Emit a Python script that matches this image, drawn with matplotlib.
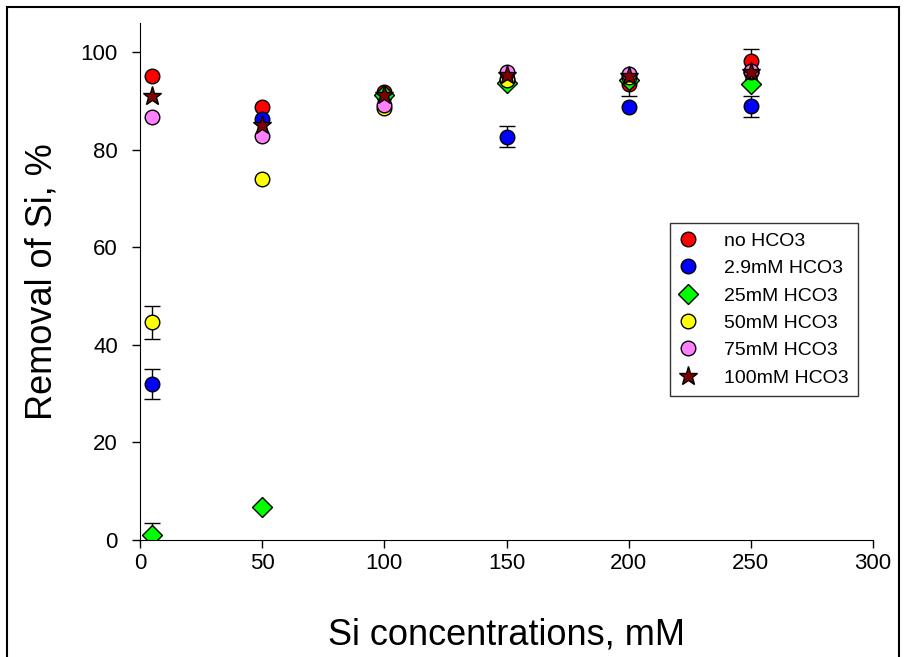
import numpy as np
import matplotlib
matplotlib.use("Agg")
import matplotlib.pyplot as plt
from matplotlib.patches import Rectangle

plt.rcParams['font.family'] = ['Liberation Sans', 'DejaVu Sans']

si_conc = [5, 50, 100, 150, 200, 250]

no_hco3 = [95.2, 88.8, 91.8, 94.5, 93.4, 98.2]
no_hco3_err = [0, 0, 0, 0, 2.4, 2.4]

hco3_2_9 = [32.0, 86.3, 91.0, 82.7, 88.8, 88.9]
hco3_2_9_err = [3.1, 0, 0, 2.1, 0, 2.2]

hco3_25 = [1.0, 6.8, 91.2, 93.6, 94.3, 93.4]
hco3_25_err = [2.5, 0, 0, 0, 0, 0]

hco3_50 = [44.6, 74.0, 88.5, 94.4, 95.0, 96.0]
hco3_50_err = [3.3, 0, 0, 0, 0, 0]

hco3_75 = [86.8, 82.8, 89.2, 96.0, 95.6, 96.1]
hco3_75_err = [0, 0, 0, 0, 0, 0]

hco3_100 = [91.1, 85.1, 91.2, 95.3, 95.2, 96.0]
hco3_100_err = [0, 0, 0, 0, 0, 0]

series = [
    ("no HCO3", no_hco3, no_hco3_err, "o", "#FF0000"),
    ("2.9mM HCO3", hco3_2_9, hco3_2_9_err, "o", "#0000FF"),
    ("25mM HCO3", hco3_25, hco3_25_err, "D", "#00FF00"),
    ("50mM HCO3", hco3_50, hco3_50_err, "o", "#FFFF00"),
    ("75mM HCO3", hco3_75, hco3_75_err, "o", "#FF80FF"),
    ("100mM HCO3", hco3_100, hco3_100_err, "*", "#800000"),
]

fig = plt.figure(figsize=(9.07, 6.57), dpi=100)
ax = fig.add_axes([140/907, 117/657, 733/907, 517/657])

for label, vals, err, mk, col in series:
    ms = 10.5
    if mk == "D":
        ms = 10
    if mk == "*":
        ms = 14
    yerr = np.array(err, dtype=float)
    yerr[yerr == 0] = np.nan
    ax.errorbar(si_conc, vals, yerr=yerr, fmt=mk, color=col, mec='black', mew=1,
                ms=ms, ecolor='black', elinewidth=1, capsize=5.5, capthick=1,
                label=label)

ax.set_xlim(0, 300)
ax.set_ylim(0, 106)
ax.set_xticks(np.arange(0, 301, 50))
ax.set_yticks(np.arange(0, 101, 20))
ax.spines['top'].set_visible(False)
ax.spines['right'].set_visible(False)
ax.tick_params(direction='out', length=6, width=1, labelsize=16)
ax.tick_params(axis='y', pad=10)
ax.set_xlabel("Si concentrations, mM", fontsize=26)
ax.set_ylabel("Removal of Si, %", fontsize=26)
ax.yaxis.set_label_coords(-0.134, 0.5)
ax.xaxis.set_label_coords(0.5, -0.184)
ax.xaxis.label.set_va('center')
ax.yaxis.label.set_va('center')

handles, labels = ax.get_legend_handles_labels()
handles = [h[0] for h in handles]
leg = ax.legend(handles, labels, loc='upper left', bbox_to_anchor=(0.723, 0.614),
                fontsize=14, frameon=True, fancybox=False, edgecolor='black',
                handletextpad=1.37, borderpad=0.5, labelspacing=0.5,
                handlelength=0.9, borderaxespad=0)
leg.get_frame().set_linewidth(1)

fig.patches.append(Rectangle((7/907, -0.05), 892/907, 1.05 - 7/657,
                             transform=fig.transFigure, fill=False,
                             edgecolor='black', linewidth=1.5))

fig.savefig("out.png", dpi=100)
